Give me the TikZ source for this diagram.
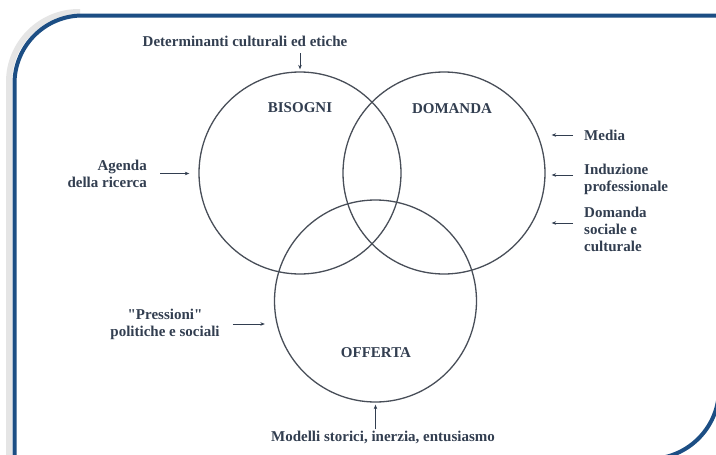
\documentclass[tikz,border=0pt]{standalone}
\usepackage{fontspec}
\setmainfont{Liberation Serif}
\usetikzlibrary{arrows.meta}
\definecolor{frameblue}{RGB}{28,78,132}
\definecolor{inkgray}{RGB}{72,78,88}
\definecolor{textslate}{RGB}{50,62,80}
\tikzset{
  set/.style={circle,draw=inkgray,line width=1.3pt,minimum size=202pt,inner sep=0pt},
  lbl/.style={font=\bfseries\fontsize{15}{17}\selectfont,text=textslate,inner sep=1pt,align=center},
  push/.style={-{Stealth[length=4.5pt,width=3.5pt]},draw=textslate,line width=1pt},
}
\begin{document}
\begin{tikzpicture}[x=1pt,y=-1pt]
  \useasboundingbox (0,0) rectangle (716,455);
  \clip (0,0) rectangle (716,455);
  \fill[white] (0,0) rectangle (716,455);

  % frame with its shadow
  \draw[gray!20,line width=6pt,rounded corners=70pt] (9,470) -- (9,12) -- (80,12);
  \draw[frameblue,line width=4pt,rounded corners=68pt] (14.5,470) -- (14.5,15.5) -- (740,15.5);
  \draw[frameblue,line width=4pt,rounded corners=70pt] (719,300) -- (719,459) -- (560,459);

  \node (bis) at (300,173) [set]{};
  \node (dom) at (444,173) [set]{};
  \node (off) at (375.5,301) [set]{};

  \node (bisl) at (300,108) [lbl]{BISOGNI};
  \node (doml) at (452,109) [lbl]{DOMANDA};
  \node (offl) at (376,353) [lbl]{OFFERTA};

  \node (det) at (245,41) [lbl]{Determinanti culturali ed etiche};
  \node (agenda) at (148,173.5) [lbl,anchor=east,align=right]{Agenda\\della ricerca};
  \node (press) at (165,324) [lbl]{\textquotedbl Pressioni\textquotedbl\\politiche e sociali};
  \node (model) at (383,437) [lbl]{Modelli storici, inerzia, entusiasmo};
  \node (media) at (583,135) [lbl,anchor=west]{Media};
  \node (induz) at (583,179) [lbl,anchor=west,align=left]{Induzione\\professionale};
  \node (socio) at (583,229) [lbl,anchor=west,align=left]{Domanda\\sociale e\\culturale};

  \coordinate (induzin) at (583,175);
  \coordinate (socioin) at (583,223);

  \draw[push,shorten <=6pt,shorten >=2pt] (det.south -| bis.north) -- (bis.north);
  \draw[push,shorten <=12pt,shorten >=9pt] (agenda.east) -- (agenda.east -| bis.west);
  \draw[push,shorten <=12pt,shorten >=9pt] (press.east) -- (press.east -| off.west);
  \draw[push,shorten >=2pt] (model.north -| off.south) -- (off.south);

  \draw[push,shorten <=10pt,shorten >=6pt] (media.west) -- (media.west -| dom.east);
  \draw[push,shorten <=10pt,shorten >=6pt] (induzin) -- (induzin -| dom.east);
  \draw[push,shorten <=10pt,shorten >=6pt] (socioin) -- (socioin -| dom.east);

\end{tikzpicture}
\end{document}
